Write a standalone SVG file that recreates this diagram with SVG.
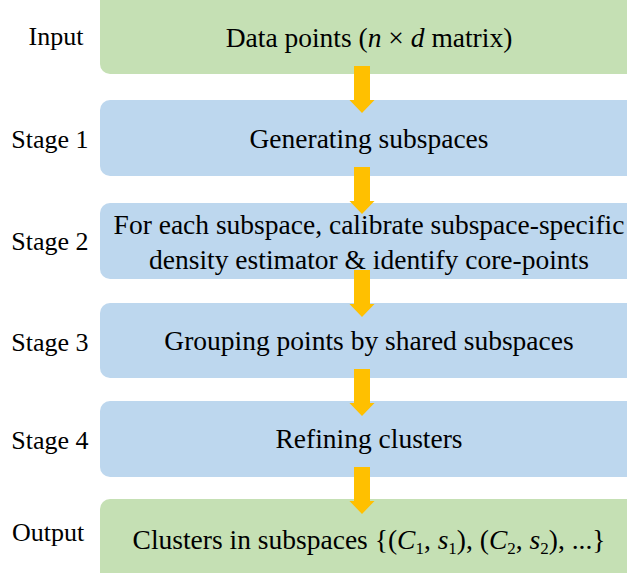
<svg xmlns="http://www.w3.org/2000/svg" width="627" height="573" viewBox="0 0 627 573">
<defs>
<path id="arr" d="M-8,0 H8 V34 H12.5 L0,47 L-12.5,34 H-8 Z" fill="#FFC000"/>
</defs>
<g id="labels">
<text x="56" y="45" style="font-family:'Liberation Serif',serif;font-size:26px" text-anchor="middle">Input</text>
<text x="50" y="148" style="font-family:'Liberation Serif',serif;font-size:26px" text-anchor="middle">Stage 1</text>
<text x="50" y="250" style="font-family:'Liberation Serif',serif;font-size:26px" text-anchor="middle">Stage 2</text>
<text x="50" y="351" style="font-family:'Liberation Serif',serif;font-size:26px" text-anchor="middle">Stage 3</text>
<text x="50" y="449" style="font-family:'Liberation Serif',serif;font-size:26px" text-anchor="middle">Stage 4</text>
<text x="48" y="541" style="font-family:'Liberation Serif',serif;font-size:26px" text-anchor="middle">Output</text>
</g>
<g id="input">
<rect fill="#C5E0B4" x="100" y="-10" width="540" height="84" rx="10"/>
<text x="369" y="47" style="font-family:'Liberation Serif',serif;font-size:27.5px" text-anchor="middle">Data points (<tspan font-style="italic">n</tspan> &#215; <tspan font-style="italic">d</tspan> matrix)</text>
</g>
<g id="stage1">
<rect fill="#BDD7EE" x="100" y="100" width="540" height="76" rx="10"/>
<text x="369" y="148" style="font-family:'Liberation Serif',serif;font-size:27.5px" text-anchor="middle">Generating subspaces</text>
</g>
<g id="stage2">
<rect fill="#BDD7EE" x="100" y="203" width="540" height="76" rx="10"/>
<text x="369" y="234" style="font-family:'Liberation Serif',serif;font-size:27.5px" text-anchor="middle">For each subspace, calibrate subspace-specific</text>
<text x="369" y="269" style="font-family:'Liberation Serif',serif;font-size:27.5px" text-anchor="middle">density estimator &amp; identify core-points</text>
</g>
<g id="stage3">
<rect fill="#BDD7EE" x="100" y="303" width="540" height="75" rx="10"/>
<text x="369" y="350" style="font-family:'Liberation Serif',serif;font-size:27.5px" text-anchor="middle">Grouping points by shared subspaces</text>
</g>
<g id="stage4">
<rect fill="#BDD7EE" x="100" y="401" width="540" height="76" rx="10"/>
<text x="369" y="448" style="font-family:'Liberation Serif',serif;font-size:27.5px" text-anchor="middle">Refining clusters</text>
</g>
<g id="output">
<rect fill="#C5E0B4" x="100" y="499" width="540" height="90" rx="10"/>
<text x="369" y="549" style="font-family:'Liberation Serif',serif;font-size:27.5px" text-anchor="middle">Clusters in subspaces {(<tspan font-style="italic">C</tspan><tspan font-size="17" dy="5">1</tspan><tspan dy="-5">, </tspan><tspan font-style="italic">s</tspan><tspan font-size="17" dy="5">1</tspan><tspan dy="-5">), (</tspan><tspan font-style="italic">C</tspan><tspan font-size="17" dy="5">2</tspan><tspan dy="-5">, </tspan><tspan font-style="italic">s</tspan><tspan font-size="17" dy="5">2</tspan><tspan dy="-5">), ...}</tspan></text>
</g>
<g id="connectors">
<use href="#arr" x="362" y="66"/>
<use href="#arr" x="362" y="167"/>
<use href="#arr" x="362" y="270"/>
<use href="#arr" x="362" y="369"/>
<use href="#arr" x="362" y="467"/>
</g>
</svg>
